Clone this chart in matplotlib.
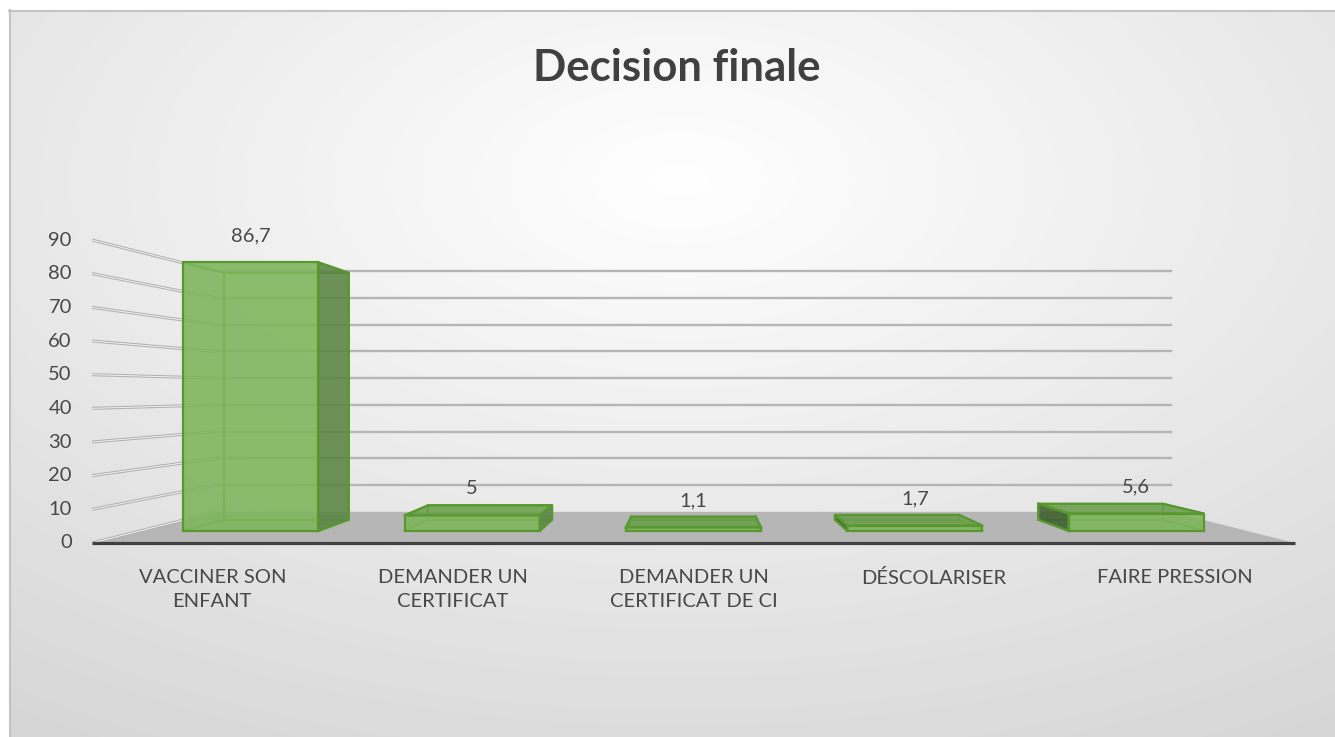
import numpy as np
import matplotlib
matplotlib.use("Agg")
import matplotlib.pyplot as plt
from matplotlib.patches import Polygon

# ---------------- data ----------------
title = "Decision finale"
categories = ["VACCINER SON\nENFANT", "DEMANDER UN\nCERTIFICAT",
              "DEMANDER UN\nCERTIFICAT DE CI", "DÉSCOLARISER", "FAIRE PRESSION"]
values = [86.7, 5, 1.1, 1.7, 5.6]
y_ticks = [0, 10, 20, 30, 40, 50, 60, 70, 80, 90]

# ---------------- layout / style ----------------
W, H, DPI = 1335, 737, 100
FONT = ["Lato", "DejaVu Sans"]
plt.rcParams["font.family"] = FONT
TXT = "#484848"

# front plane of the 3D box in figure pixels (from top-left)
FL, FR, FB, FT = 92, 1295, 543, 240
DEPTH = 0.259          # perspective strength (scale at back = 1/(1+DEPTH))
BAR_W = 0.611          # fraction of category slot
Z0, Z1 = 0.336, 0.703  # bar depth extent (0 = front, 1 = back)

n = len(categories)
ymax = y_ticks[-1]
VX, VY = n / 2.0, ymax / 2.0   # vanishing point in data units


def proj(X, Y, Z):
    s = 1.0 / (1.0 + DEPTH * Z)
    return VX + (X - VX) * s, VY + (Y - VY) * s


fig = plt.figure(figsize=(W / DPI, H / DPI), dpi=DPI)

# ---- background: radial gradient chart area with border ----
bg = fig.add_axes([0, 0, 1, 1])
bg.set_axis_off()
yy, xx = np.mgrid[0:H, 0:W].astype(float)
r = np.hypot((xx - 680) / W, (yy - 180) / H)
val = np.clip(1.0 - 0.18 * r, 0, 1)
val[:, :9] = 1.0
val[:10, :] = 1.0
img = np.dstack([val, val, val])
bg.imshow(img, extent=(0, W, H, 0), aspect="auto", interpolation="bilinear")
bg.plot([9.5, 9.5], [10, H], color="#c3c3c3", lw=1.5)
bg.plot([9, W], [10.5, 10.5], color="#c3c3c3", lw=1.5)
bg.set_xlim(0, W)
bg.set_ylim(H, 0)

# ---- main axes in data units ----
ax = fig.add_axes([0, 0, 1, 1])
ax.set_axis_off()
ax.patch.set_alpha(0)
ppx = (FR - FL) / n
ppy = (FB - FT) / ymax
ax.set_xlim(-FL / ppx, (W - FL) / ppx)
ax.set_ylim(-(H - FB) / ppy, FB / ppy)

# floor
floor = [proj(0, 0, 0), proj(n, 0, 0), proj(n, 0, 1), proj(0, 0, 1)]
ax.add_patch(Polygon(floor, closed=True, fc="#b6b6b6", ec="none", zorder=1))

# left wall grid lines (double-line look)
for v in y_ticks:
    p0, p1 = proj(0, v, 0), proj(0, v, 1)
    ax.plot([p0[0], p1[0]], [p0[1], p1[1]], color="#b0b0b0", lw=2.2, zorder=2,
            solid_capstyle="butt")
    ax.plot([p0[0], p1[0]], [p0[1], p1[1]], color="#f2f2f2", lw=0.7, zorder=2.1,
            solid_capstyle="butt")
# back wall grid lines
for v in y_ticks[1:]:
    p0, p1 = proj(0, v, 1), proj(n, v, 1)
    ax.plot([p0[0], p1[0]], [p0[1], p1[1]], color="#b5b5b5", lw=1.7, zorder=2)

# floor front edge (category axis line)
p0, p1 = proj(0, 0, 0), proj(n, 0, 0)
ax.plot([p0[0], p1[0]], [p0[1], p1[1]], color="#404040", lw=2.3, zorder=3,
        solid_capstyle="butt")

# ---- bars ----
FRONT = "#7db55a"
TOP = "#6a9e4b"
RIGHT = "#5a8443"
LEFT = "#3d5f2e"
EDGE = "#58982f"

for i, v in enumerate(values):
    x0 = i + 0.5 - BAR_W / 2
    x1 = i + 0.5 + BAR_W / 2
    P = {}
    for a, X in (("l", x0), ("r", x1)):
        for b, Y in (("b", 0), ("t", v)):
            for c, Z in (("f", Z0), ("k", Z1)):
                P[a + b + c] = proj(X, Y, Z)
    faces = {
        "front": ["lbf", "rbf", "rtf", "ltf"],
        "back": ["lbk", "rbk", "rtk", "ltk"],
        "top": ["ltf", "rtf", "rtk", "ltk"],
        "bottom": ["lbf", "rbf", "rbk", "lbk"],
        "left": ["lbf", "lbk", "ltk", "ltf"],
        "right": ["rbf", "rbk", "rtk", "rtf"],
    }
    visible = ["front"]
    if v < VY:
        visible.append("top")
    if x1 < VX:
        visible.append("right")
    if x0 > VX:
        visible.append("left")
    colors = {"front": FRONT, "top": TOP, "right": RIGHT, "left": LEFT}
    edges = set()
    for f in faces.values():
        for k in range(4):
            edges.add(tuple(sorted((f[k], f[(k + 1) % 4]))))
    for a, b in edges:
        ax.plot([P[a][0], P[b][0]], [P[a][1], P[b][1]], color="#62a53e", lw=1.4,
                zorder=4)
    order = [f for f in ("left", "right", "top", "front") if f in visible]
    for f in order:
        pts = [P[k] for k in faces[f]]
        ax.add_patch(Polygon(pts, closed=True, fc=colors[f], ec="none",
                             alpha=0.88, zorder=5))
    for f in order:
        pts = [P[k] for k in faces[f]]
        ax.add_patch(Polygon(pts, closed=True, fc="none", ec=EDGE, lw=1.6,
                             zorder=6))
    ftc = proj(i + 0.5, v, Z0)
    ax.annotate(f"{v:g}".replace(".", ","), xy=ftc, xytext=(0, 19),
                textcoords="offset points", ha="center", va="center",
                fontsize=14.5, color=TXT, zorder=7)

# ---- value axis labels ----
for v in y_ticks:
    ax.annotate(str(v), xy=proj(0, v, 0), xytext=(-14.5, 0),
                textcoords="offset points", ha="right", va="center",
                fontsize=14.5, color=TXT)

# ---- category labels ----
for i, c in enumerate(categories):
    ax.annotate(c, xy=(i + 0.5, 0), xytext=(0, -18.5),
                textcoords="offset points", ha="center", va="top",
                fontsize=14.5, color=TXT, linespacing=1.55)

# ---- title ----
fig.text(677 / W, 1 - 68 / H, title, ha="center", va="center",
         fontsize=31.5, fontweight="bold", color="#404040")

fig.savefig("out.png", dpi=DPI)
